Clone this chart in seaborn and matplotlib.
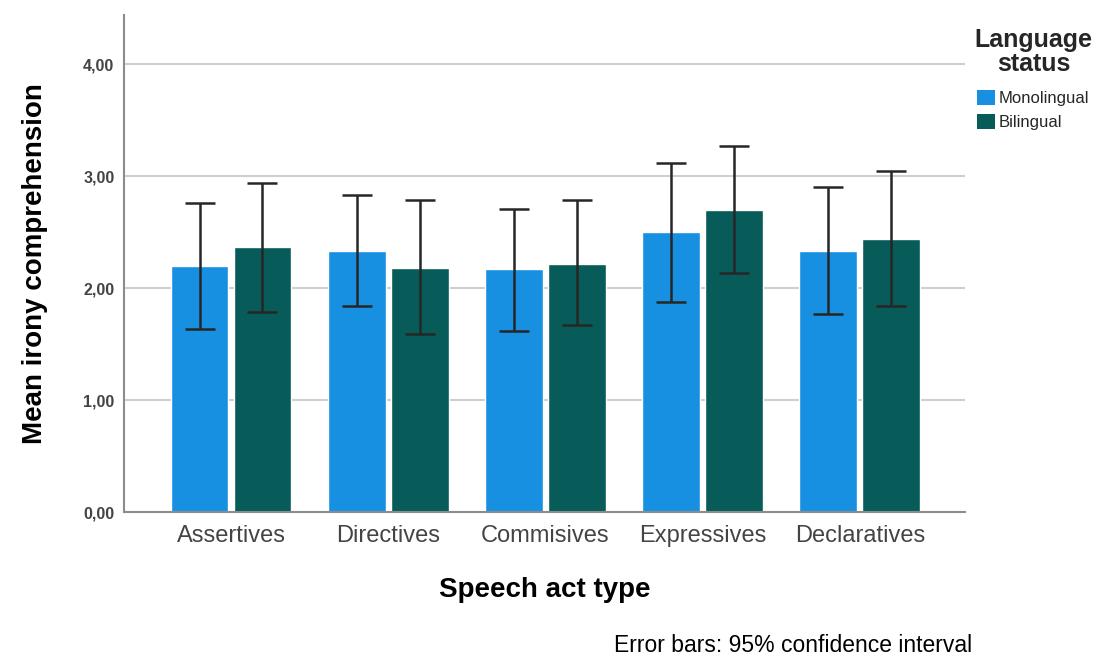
import numpy as np
import pandas as pd
import matplotlib
matplotlib.use("Agg")
import matplotlib.pyplot as plt
import seaborn as sns
from matplotlib.patches import Patch

# Mean irony comprehension by speech act type and language status
speech_acts = ["Assertives", "Directives", "Commisives", "Expressives", "Declaratives"]
statuses = ["Monolingual", "Bilingual"]

mono_mean = [2.20, 2.33, 2.17, 2.50, 2.33]
mono_ci_low = [1.64, 1.84, 1.62, 1.88, 1.77]
mono_ci_high = [2.76, 2.83, 2.71, 3.12, 2.90]

bi_mean = [2.37, 2.18, 2.22, 2.70, 2.44]
bi_ci_low = [1.79, 1.59, 1.67, 2.14, 1.84]
bi_ci_high = [2.94, 2.79, 2.79, 3.27, 3.05]

y_ticks = [0, 1, 2, 3, 4]
y_tick_labels = ["0,00", "1,00", "2,00", "3,00", "4,00"]

colors = {"Monolingual": "#1790E2", "Bilingual": "#075B59"}

sns.set_theme(style="white")
plt.rcParams["font.family"] = ["Liberation Sans", "DejaVu Sans"]

df = pd.DataFrame({
    "Speech act type": speech_acts * 2,
    "Language status": ["Monolingual"] * 5 + ["Bilingual"] * 5,
    "Mean": mono_mean + bi_mean,
})

fig = plt.figure(figsize=(11.08, 6.55), dpi=100)
ax = fig.add_axes([0.112, 0.218, 0.759, 0.759])

sns.barplot(
    data=df, x="Speech act type", y="Mean", hue="Language status",
    order=speech_acts, hue_order=statuses, palette=colors,
    errorbar=None, width=0.8, gap=0.08, saturation=1, legend=False, ax=ax,
)

# 95% confidence interval error bars, placed at each bar's centre
ci = {
    "Monolingual": (mono_mean, mono_ci_low, mono_ci_high),
    "Bilingual": (bi_mean, bi_ci_low, bi_ci_high),
}
for status, container in zip(statuses, ax.containers):
    means, lows, highs = ci[status]
    xs = [p.get_x() + p.get_width() / 2 for p in container.patches]
    means = np.array(means)
    yerr = np.vstack([means - np.array(lows), np.array(highs) - means])
    ax.errorbar(xs, means, yerr=yerr, fmt="none", ecolor="#262626",
                elinewidth=1.8, capsize=11, capthick=1.8, zorder=5)

ax.set_ylim(0, 4.44)
ax.set_xlim(-0.68, 4.67)
ax.set_yticks(y_ticks)
ax.set_yticklabels(y_tick_labels, fontsize=11.5, color="#444444", fontweight="bold")
ax.tick_params(axis="y", length=0, pad=7)
ax.tick_params(axis="x", length=0, pad=9, labelsize=17, labelcolor="#444444")

ax.yaxis.grid(True, color="#cfcfcf", linewidth=1.5)
ax.set_axisbelow(True)
for side in ["top", "right"]:
    ax.spines[side].set_visible(False)
for side in ["left", "bottom"]:
    ax.spines[side].set_color("#8c8c8c")
    ax.spines[side].set_linewidth(1.5)

ax.set_xlabel("Speech act type", fontsize=20, fontweight="bold", labelpad=22, color="black")
ax.set_ylabel("Mean irony comprehension", fontsize=20, fontweight="bold", labelpad=25, color="black")

handles = [Patch(facecolor=colors[s], edgecolor="none") for s in statuses]
leg = fig.legend(
    handles, statuses, title="Language\nstatus", loc="upper left",
    bbox_to_anchor=(0.869, 0.975), frameon=False, fontsize=12,
    title_fontproperties={"weight": "bold", "size": 18},
    handlelength=1.05, handleheight=1.05, handletextpad=0.25, labelspacing=0.45,
    borderpad=0.2,
)
leg._legend_box.align = "center"
leg.get_title().set_multialignment("center")
leg.get_title().set_linespacing(1.0)
leg._legend_box.sep = 10

fig.text(0.877, 0.015, "Error bars: 95% confidence interval", ha="right", va="center",
         fontsize=16.5, color="black")

fig.savefig("out.png", dpi=100, facecolor="white")
